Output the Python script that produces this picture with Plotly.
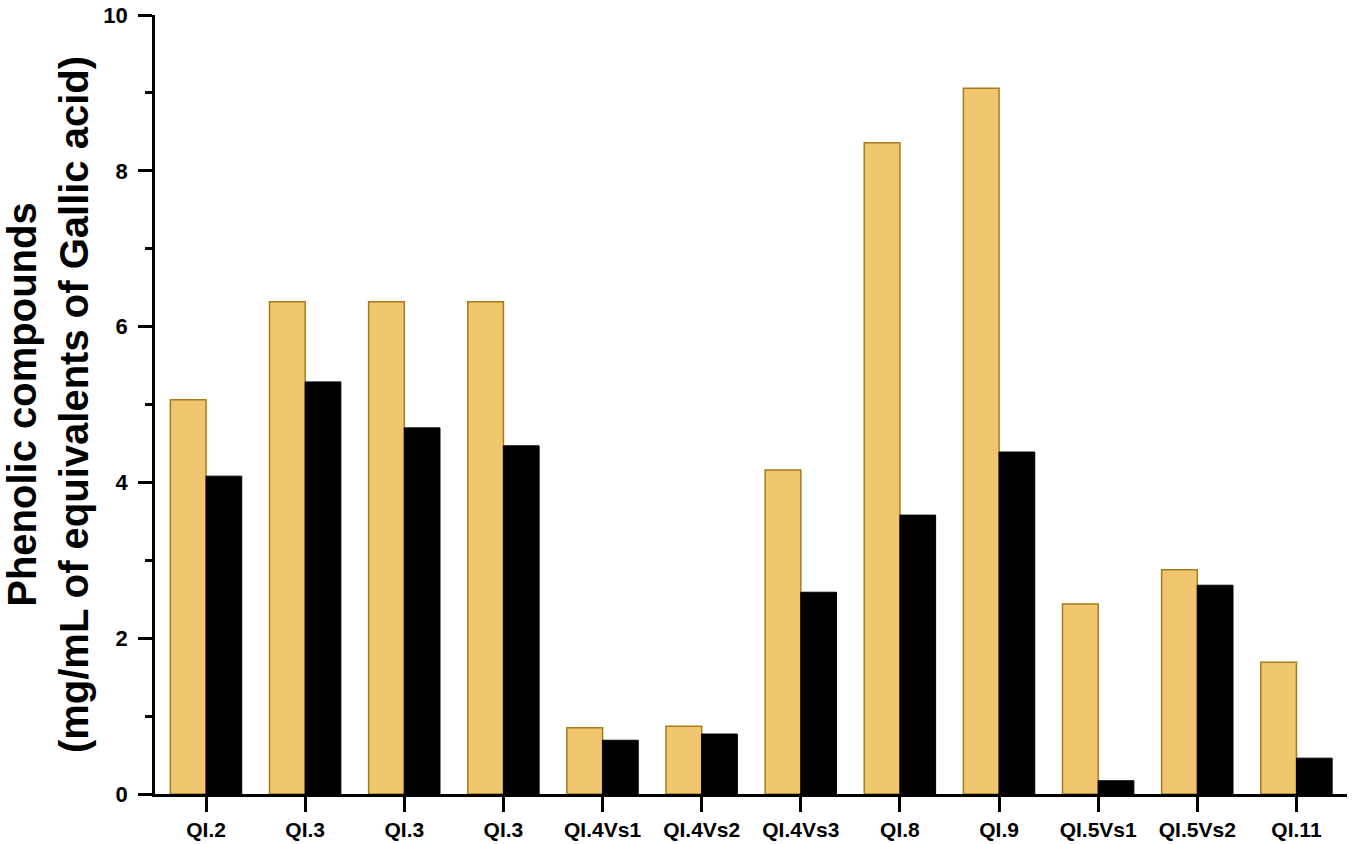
import plotly.graph_objects as go

categories = ["QI.2", "QI.3", "QI.3", "QI.3", "QI.4Vs1", "QI.4Vs2", "QI.4Vs3",
              "QI.8", "QI.9", "QI.5Vs1", "QI.5Vs2", "QI.11"]
series_a = [5.06, 6.32, 6.32, 6.32, 0.85, 0.87, 4.16, 8.36, 9.06, 2.44, 2.88, 1.69]
series_b = [4.08, 5.29, 4.70, 4.47, 0.69, 0.77, 2.59, 3.58, 4.39, 0.17, 2.68, 0.46]

x = list(range(len(categories)))

fig = go.Figure()
fig.add_trace(go.Bar(x=x, y=series_a, marker=dict(color="#F0C76E", line=dict(color="#A67C1A", width=1.5)),
                     showlegend=False))
fig.add_trace(go.Bar(x=x, y=series_b, marker=dict(color="#000000", line=dict(color="#000000", width=1)),
                     showlegend=False))

FONT = "Liberation Sans, Arial"
fig.update_layout(
    width=1352, height=844,
    margin=dict(l=155, r=5, t=15, b=50),
    paper_bgcolor="white", plot_bgcolor="white",
    barmode="group", bargap=0.28, bargroupgap=0,
    font=dict(family=FONT, color="black"),
    xaxis=dict(
        range=[-0.515, 11.51], tickmode="array", tickvals=x, ticktext=categories,
        showline=True, linecolor="black", linewidth=2.5, ticks="outside", ticklen=15,
        tickwidth=2.5, tickcolor="black", showgrid=False, zeroline=False, automargin=False,
        tickfont=dict(size=21, family=FONT, weight="bold"),
    ),
    yaxis=dict(
        range=[0, 10], dtick=2, tick0=0, automargin=False,
        showline=True, linecolor="black", linewidth=2.5, ticks="outside", ticklen=14,
        tickwidth=2.5, tickcolor="black", showgrid=False, zeroline=False,
        tickfont=dict(size=22, family=FONT, weight="bold"), ticklabelstandoff=6,
        minor=dict(dtick=1, ticks="outside", ticklen=7, tickwidth=2.5, tickcolor="black", showgrid=False),
        title=dict(text="Phenolic compounds<br>(mg/mL of equivalents of Gallic acid)",
                   font=dict(size=40, family=FONT, weight="bold"), standoff=28),
    ),
)

fig.write_html("out.html", config={"displayModeBar": False},
               post_script="document.body.style.margin='0px';document.body.style.overflow='hidden';")
